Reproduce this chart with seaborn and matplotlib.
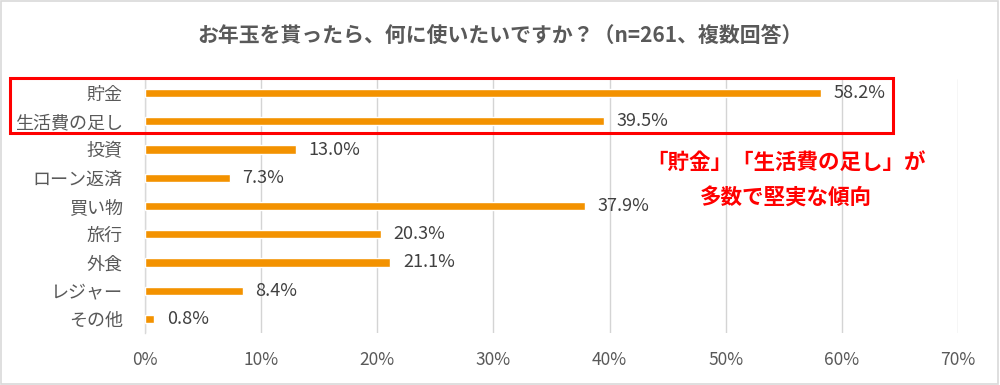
import matplotlib
matplotlib.use("Agg")
import matplotlib.pyplot as plt
import seaborn as sns
import pandas as pd
import numpy as np
from matplotlib.patches import Rectangle
from matplotlib.ticker import FixedLocator

categories = ["貯金", "生活費の足し", "投資", "ローン返済", "買い物", "旅行", "外食", "レジャー", "その他"]
values = [58.2, 39.5, 13.0, 7.3, 37.9, 20.3, 21.1, 8.4, 0.8]
xticks = [0, 10, 20, 30, 40, 50, 60, 70]
title = "お年玉を貰ったら、何に使いたいですか？（n=261、複数回答）"
note_lines = ["「貯金」「生活費の足し」が", "多数で堅実な傾向"]

sns.set_theme(style="white")
plt.rcParams['font.family'] = ['Noto Sans CJK JP', 'DejaVu Sans']

df = pd.DataFrame({"cat": categories, "val": values})

fig = plt.figure(figsize=(10, 3.85), dpi=100)
ax = fig.add_axes([0.145, 0.135, 0.813, 0.66])

sns.barplot(data=df, x="val", y="cat", color="#F39200", saturation=1, width=0.29, ax=ax, zorder=3)

ax.set_xlim(0, 70)
ax.set_ylim(len(categories) - 0.5, -0.5)
ax.set_xticks(xticks)
ax.set_xticklabels([f"{t}%" for t in xticks], fontsize=12.5, color="#595959")
ax.tick_params(axis="x", length=0, pad=13)
ax.tick_params(axis="y", length=0, pad=16, labelsize=13, labelcolor="#595959")
ax.yaxis.set_minor_locator(FixedLocator(np.arange(-0.5, len(categories), 1.0)))
ax.tick_params(axis="y", which="minor", length=5, width=1, color="#d9d9d9", direction="out")
ax.set_xlabel("")
ax.set_ylabel("")
ax.grid(axis="x", color="#d4d4d4", linewidth=1, zorder=0)
for s in ["top", "right", "bottom"]:
    ax.spines[s].set_visible(False)
ax.spines["left"].set_color("#d9d9d9")
ax.spines["left"].set_linewidth(1)

for i, v in enumerate(values):
    ax.text(v + 1.1, i, f"{v:.1f}%", va="center", ha="left", fontsize=13, color="#404040", zorder=4)

fig.text(0.5, 0.905, title, ha="center", va="center", fontsize=15, fontweight="bold", color="#595959")

fig.patches.append(Rectangle((0.010, 0.655), 0.883, 0.142, transform=fig.transFigure,
                             fill=False, edgecolor="#FF0000", linewidth=2.2, zorder=10))
fig.patches.append(Rectangle((0.001, 0.003), 0.997, 0.994, transform=fig.transFigure,
                             fill=False, edgecolor="#d9d9d9", linewidth=1.2, zorder=10))

fig.text(0.786, 0.577, note_lines[0], ha="center", va="center", fontsize=15.5, fontweight="bold", color="#FF0000")
fig.text(0.786, 0.486, note_lines[1], ha="center", va="center", fontsize=15.5, fontweight="bold", color="#FF0000")

fig.savefig("out.png", dpi=100)
